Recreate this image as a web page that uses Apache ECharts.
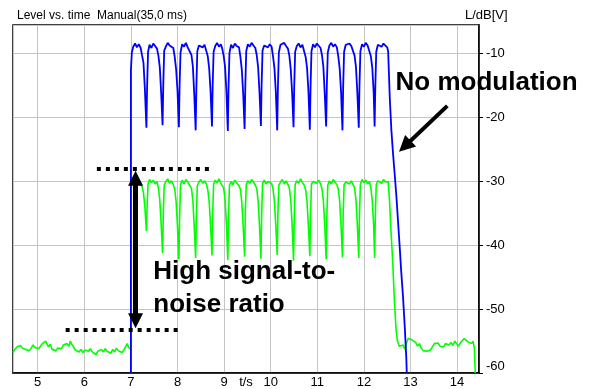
<!DOCTYPE html>
<html>
<head>
<meta charset="utf-8">
<script src="https://cdn.jsdelivr.net/npm/echarts@6/dist/echarts.min.js"></script>
<style>
  html, body { margin: 0; padding: 0; background: #fff; }
  #chart { width: 595px; height: 389px; }
</style>
</head>
<body>
<div id="chart"></div>
<script>
// level vs time, [t in s, L in dB]
const modulatedLevel = [
  [7.0, -60], [7.0, -12.6], [7.02, -9.8], [7.05, -8.9], [7.09, -8.4], [7.13, -9.0], [7.17, -8.5], [7.21, -9.1], [7.24, -10.3], [7.27, -11.4], [7.30, -15.5],
  [7.333, -21.6], [7.348, -15.2], [7.368, -9.7], [7.40, -8.6], [7.44, -9.1], [7.48, -8.4], [7.52, -8.8], [7.56, -9.2], [7.59, -10.3], [7.62, -12.1], [7.65, -16.2],
  [7.68, -21.2], [7.695, -14.8], [7.715, -9.5], [7.75, -8.9], [7.79, -8.3], [7.83, -8.7], [7.87, -8.5], [7.91, -9.1], [7.94, -10.5], [7.97, -12.4], [8.00, -15.8],
  [8.03, -21.5], [8.045, -15.0], [8.065, -9.8], [8.10, -8.5], [8.14, -8.9], [8.18, -8.3], [8.22, -9.0], [8.26, -8.7], [8.30, -10.2], [8.33, -12.0], [8.36, -16.4],
  [8.39, -22.0], [8.405, -15.3], [8.425, -9.6], [8.46, -8.7], [8.50, -8.4], [8.54, -9.0], [8.58, -8.6], [8.62, -8.9], [8.65, -10.4], [8.68, -12.3], [8.71, -16.0],
  [8.74, -21.4], [8.755, -14.9], [8.775, -9.7], [8.81, -8.8], [8.85, -8.3], [8.89, -8.9], [8.93, -8.5], [8.96, -9.2], [8.99, -10.3], [9.02, -12.0], [9.05, -15.9],
  [9.08, -22.1], [9.095, -15.4], [9.115, -9.9], [9.15, -8.6], [9.19, -9.1], [9.23, -8.4], [9.27, -8.8], [9.32, -9.0], [9.35, -10.5], [9.38, -12.5], [9.41, -16.3],
  [9.44, -21.8], [9.455, -15.1], [9.475, -9.6], [9.51, -8.5], [9.55, -8.9], [9.59, -8.3], [9.63, -8.7], [9.67, -9.1], [9.70, -10.2], [9.73, -12.1], [9.76, -16.1],
  [9.79, -21.3], [9.805, -14.8], [9.825, -9.5], [9.86, -8.7], [9.90, -8.4], [9.94, -9.0], [9.98, -8.5], [10.02, -8.9], [10.05, -10.4], [10.08, -12.2], [10.11, -16.0],
  [10.14, -22.0], [10.155, -15.2], [10.175, -9.8], [10.21, -8.6], [10.25, -8.9], [10.29, -8.3], [10.33, -8.8], [10.37, -9.2], [10.40, -10.3], [10.43, -12.4], [10.46, -16.2],
  [10.49, -21.5], [10.505, -15.0], [10.525, -9.7], [10.56, -8.8], [10.60, -8.4], [10.64, -9.0], [10.68, -8.6], [10.72, -8.9], [10.75, -10.5], [10.78, -12.2], [10.81, -15.9],
  [10.84, -21.9], [10.855, -15.3], [10.875, -9.6], [10.91, -8.5], [10.95, -9.0], [10.99, -8.4], [11.03, -8.7], [11.07, -9.1], [11.10, -10.2], [11.13, -12.0], [11.16, -16.3],
  [11.19, -21.4], [11.205, -14.9], [11.225, -9.8], [11.26, -8.7], [11.30, -8.3], [11.34, -8.9], [11.38, -8.5], [11.42, -9.0], [11.45, -10.4], [11.48, -12.3], [11.51, -16.0],
  [11.54, -22.0], [11.555, -15.2], [11.575, -9.7], [11.61, -8.6], [11.65, -8.9], [11.69, -8.4], [11.73, -8.8], [11.77, -9.1], [11.80, -10.3], [11.83, -12.1], [11.86, -16.2],
  [11.89, -21.6], [11.905, -15.0], [11.925, -9.6], [11.96, -8.5], [12.00, -8.9], [12.04, -8.3], [12.08, -8.7], [12.12, -9.0], [12.15, -10.4], [12.18, -12.2], [12.21, -16.1],
  [12.23, -21.4], [12.245, -15.1], [12.265, -9.7], [12.30, -8.6], [12.34, -8.3], [12.38, -8.9], [12.42, -8.4], [12.46, -8.7], [12.50, -9.0], [12.52, -9.6],
  [12.556, -17.0], [12.59, -22.0], [12.625, -25.6], [12.66, -28.8], [12.698, -32.4], [12.73, -36.0], [12.768, -40.2], [12.80, -44.0], [12.839, -48.0], [12.875, -52.5], [12.91, -57.6], [12.92, -60]
];

const plainLevel = [
  [4.47, -56.8], [4.50, -56.4], [4.53, -56.6], [4.56, -55.9], [4.60, -56.2], [4.63, -55.7], [4.67, -56.1], [4.70, -55.8], [4.74, -56.3], [4.78, -56.0],
  [4.82, -56.5], [4.86, -56.1], [4.90, -55.6], [4.94, -56.0], [4.98, -55.7], [5.02, -56.2], [5.06, -55.8], [5.10, -55.4], [5.14, -55.7], [5.17, -55.0],
  [5.20, -55.3], [5.23, -55.9], [5.27, -55.5], [5.31, -56.3], [5.35, -56.0], [5.39, -56.5], [5.43, -56.1], [5.47, -55.8], [5.51, -56.2], [5.55, -55.6],
  [5.59, -55.9], [5.63, -55.4], [5.67, -55.8], [5.70, -55.0], [5.73, -55.5], [5.77, -55.9], [5.81, -56.4], [5.85, -56.1], [5.89, -56.7], [5.93, -56.3],
  [5.97, -56.8], [6.01, -56.4], [6.05, -56.1], [6.09, -56.6], [6.13, -56.2], [6.17, -56.7], [6.21, -56.5], [6.25, -57.1], [6.29, -56.6], [6.33, -56.9],
  [6.37, -56.3], [6.41, -56.7], [6.45, -56.2], [6.49, -56.6], [6.53, -56.4], [6.57, -56.9], [6.61, -56.3], [6.65, -56.7], [6.69, -56.1], [6.73, -56.5],
  [6.77, -56.2], [6.81, -56.8], [6.85, -56.4], [6.89, -56.6], [6.92, -55.4], [6.95, -56.0], [6.98, -56.3], [7.0, -56.3],
  [7.0, -30.5], [7.02, -30.1], [7.05, -29.8], [7.09, -30.3], [7.13, -29.6], [7.17, -30.2], [7.21, -29.9], [7.24, -30.8], [7.27, -31.8], [7.30, -34.0],
  [7.333, -37.8], [7.348, -33.8], [7.368, -30.4], [7.40, -29.7], [7.44, -30.2], [7.48, -29.8], [7.52, -30.4], [7.56, -30.0], [7.59, -31.0], [7.62, -32.9], [7.65, -36.8],
  [7.68, -41.2], [7.695, -35.2], [7.715, -30.6], [7.75, -30.0], [7.79, -29.6], [7.83, -30.3], [7.87, -29.9], [7.91, -30.5], [7.94, -31.2], [7.97, -33.1], [8.00, -37.0],
  [8.03, -42.2], [8.045, -35.6], [8.065, -30.5], [8.10, -29.8], [8.14, -30.4], [8.18, -29.7], [8.22, -30.1], [8.26, -30.6], [8.30, -31.1], [8.33, -33.0], [8.36, -37.2],
  [8.39, -42.0], [8.405, -35.3], [8.425, -30.7], [8.46, -30.1], [8.50, -29.7], [8.54, -30.3], [8.58, -29.9], [8.62, -30.4], [8.65, -31.3], [8.68, -33.2], [8.71, -36.9],
  [8.74, -41.6], [8.755, -35.0], [8.775, -30.4], [8.81, -29.8], [8.85, -30.2], [8.89, -29.6], [8.93, -30.3], [8.96, -30.0], [8.99, -31.0], [9.02, -32.8], [9.05, -36.7],
  [9.08, -42.3], [9.095, -35.7], [9.115, -30.6], [9.15, -30.0], [9.19, -30.5], [9.23, -29.8], [9.27, -30.2], [9.32, -30.7], [9.35, -31.2], [9.38, -33.3], [9.41, -37.1],
  [9.44, -41.8], [9.455, -35.1], [9.475, -30.5], [9.51, -29.9], [9.55, -30.3], [9.59, -29.7], [9.63, -30.1], [9.67, -30.6], [9.70, -31.1], [9.73, -33.0], [9.76, -36.9],
  [9.79, -42.1], [9.805, -35.4], [9.825, -30.3], [9.86, -29.8], [9.90, -30.4], [9.94, -30.0], [9.98, -29.7], [10.02, -30.3], [10.05, -31.2], [10.08, -33.1], [10.11, -37.0],
  [10.14, -41.5], [10.155, -35.0], [10.175, -30.6], [10.21, -30.1], [10.25, -29.7], [10.29, -30.4], [10.33, -29.9], [10.37, -30.5], [10.40, -31.0], [10.43, -32.9], [10.46, -36.8],
  [10.49, -42.4], [10.505, -35.8], [10.525, -30.5], [10.56, -29.9], [10.60, -30.3], [10.64, -29.6], [10.68, -30.2], [10.72, -30.6], [10.75, -31.3], [10.78, -33.2], [10.81, -37.1],
  [10.84, -41.7], [10.855, -35.2], [10.875, -30.4], [10.91, -30.0], [10.95, -29.7], [10.99, -30.3], [11.03, -29.8], [11.07, -30.4], [11.10, -31.1], [11.13, -33.0], [11.16, -36.9],
  [11.19, -42.2], [11.205, -35.5], [11.225, -30.6], [11.26, -29.9], [11.30, -30.4], [11.34, -29.7], [11.38, -30.1], [11.42, -30.5], [11.45, -31.2], [11.48, -33.1], [11.51, -37.0],
  [11.54, -41.9], [11.555, -35.3], [11.575, -30.5], [11.61, -30.1], [11.65, -29.8], [11.69, -30.4], [11.73, -29.9], [11.77, -30.2], [11.80, -31.0], [11.83, -32.9], [11.86, -36.8],
  [11.89, -42.0], [11.905, -35.4], [11.925, -30.4], [11.96, -29.7], [12.00, -30.2], [12.04, -29.8], [12.08, -30.4], [12.12, -30.0], [12.15, -31.1], [12.18, -33.0], [12.21, -37.0],
  [12.23, -42.0], [12.245, -35.3], [12.265, -30.5], [12.30, -29.9], [12.34, -29.6], [12.38, -30.3], [12.42, -29.7], [12.46, -30.1], [12.50, -29.8], [12.52, -30.0],
  [12.55, -33.0], [12.58, -37.6], [12.62, -42.8], [12.65, -48.0], [12.69, -53.2], [12.72, -55.0], [12.76, -55.8], [12.80, -56.1], [12.84, -55.6], [12.88, -56.3],
  [12.92, -55.2], [12.95, -54.6], [12.99, -54.3], [13.03, -54.8], [13.07, -54.5], [13.11, -55.2], [13.15, -55.8], [13.19, -55.4], [13.23, -56.1], [13.27, -56.5],
  [13.31, -56.8], [13.35, -56.6], [13.39, -56.9], [13.43, -56.4], [13.47, -55.9], [13.51, -55.4], [13.55, -55.7], [13.59, -55.3], [13.63, -55.8], [13.67, -55.5],
  [13.71, -55.9], [13.75, -55.4], [13.79, -55.7], [13.83, -55.6], [13.87, -55.2], [13.91, -55.7], [13.95, -55.0], [13.99, -55.4], [14.03, -55.8], [14.07, -55.3],
  [14.11, -55.6], [14.15, -54.6], [14.19, -54.3], [14.23, -55.1], [14.27, -54.8], [14.31, -55.4], [14.34, -55.0], [14.37, -56.0], [14.385, -56.2], [14.39, -60]
];

// annotations in axis units [t, L]
const upperDots = [[6.27, -28.05], [8.76, -28.05]];
const lowerDots = [[5.60, -53.3], [8.09, -53.3]];
const snrArrow = [[7.10, -29.5], [7.10, -51.8]];
const noModArrow = [[13.79, -18.16], [12.878, -24.48]];
const noModLabel = [12.68, -14.6];
const snrLabel = [7.48, -46.7];

const FONT = "'Liberation Sans', Arial, sans-serif";

const chart = echarts.init(document.getElementById('chart'));
chart.setOption({
  animation: false,
  backgroundColor: '#fff',
  textStyle: { fontFamily: FONT },
  title: [
    {
      text: 'Level vs. time  Manual(35,0 ms)',
      left: 17,
      top: 10,
      padding: 0,
      textStyle: { fontFamily: FONT, fontSize: 12, fontWeight: 'normal', color: '#000' },
    },
    {
      text: 'L/dB[V]',
      left: 465,
      top: 9,
      padding: 0,
      textStyle: { fontFamily: FONT, fontSize: 13, fontWeight: 'normal', color: '#000' },
    },
  ],
  grid: {
    left: 13,
    right: 116,
    top: 25,
    bottom: 16,
    outerBoundsMode: 'none',
    show: true,
    borderColor: '#000',
    borderWidth: 1.5,
  },
  xAxis: {
    type: 'value',
    min: 4.47,
    max: 14.47,
    minInterval: 1,
    maxInterval: 1,
    name: 't/s',
    nameLocation: 'middle',
    nameGap: 3,
    nameMoveOverlap: false,
    nameTextStyle: { fontFamily: FONT, fontSize: 13, color: '#000', verticalAlign: 'top' },
    axisLine: { show: true, lineStyle: { color: '#000', width: 1.5 } },
    axisTick: { show: false },
    axisLabel: {
      margin: 3,
      fontFamily: FONT,
      fontSize: 13,
      color: '#000',
      showMinLabel: false,
      showMaxLabel: false,
    },
    splitLine: { show: true, lineStyle: { color: '#c4c4c4', width: 1 } },
  },
  yAxis: {
    type: 'value',
    position: 'right',
    min: -60,
    max: -5.5,
    interval: 10,
    axisLine: { show: true, lineStyle: { color: '#000', width: 1.5 } },
    axisTick: { show: true, inside: false, length: 4, lineStyle: { color: '#000' } },
    axisLabel: {
      margin: 7,
      fontFamily: FONT,
      fontSize: 13,
      color: '#000',
      showMaxLabel: false,
      verticalAlignMinLabel: 'bottom',
    },
    splitLine: { show: true, lineStyle: { color: '#c4c4c4', width: 1 } },
  },
  series: [
    {
      name: 'plain',
      type: 'line',
      data: plainLevel,
      symbol: 'none',
      z: 2,
      lineStyle: { color: '#00ff00', width: 1.6 },
    },
    {
      name: 'modulated',
      type: 'line',
      data: modulatedLevel,
      symbol: 'none',
      z: 3,
      lineStyle: { color: '#0000ff', width: 1.8 },
    },
    {
      name: 'notes',
      type: 'line',
      data: [],
      z: 5,
      markLine: {
        silent: true,
        animation: false,
        label: { show: false },
        emphasis: { disabled: true },
        data: [
          [
            { coord: upperDots[0], symbol: 'none', lineStyle: { color: '#000', width: 4, type: [4, 5] } },
            { coord: upperDots[1], symbol: 'none' },
          ],
          [
            { coord: lowerDots[0], symbol: 'none', lineStyle: { color: '#000', width: 4, type: [4, 5] } },
            { coord: lowerDots[1], symbol: 'none' },
          ],
          [
            { coord: snrArrow[0], symbol: 'triangle', symbolSize: 15, lineStyle: { color: '#000', width: 5, type: 'solid' } },
            { coord: snrArrow[1], symbol: 'triangle', symbolSize: 15 },
          ],
          [
            { coord: noModArrow[0], symbol: 'none', lineStyle: { color: '#000', width: 4, type: 'solid' } },
            { coord: noModArrow[1], symbol: 'triangle', symbolSize: 16 },
          ],
        ],
        itemStyle: { color: '#000' },
      },
      markPoint: {
        silent: true,
        symbol: 'circle',
        symbolSize: 0,
        data: [
          {
            coord: noModLabel,
            label: {
              show: true,
              position: 'right',
              distance: 0,
              formatter: 'No modulation',
              fontFamily: FONT,
              fontSize: 26,
              fontWeight: 'bold',
              color: '#000',
            },
          },
          {
            coord: snrLabel,
            label: {
              show: true,
              position: 'right',
              distance: 0,
              formatter: 'High signal-to-\nnoise ratio',
              fontFamily: FONT,
              fontSize: 26,
              fontWeight: 'bold',
              lineHeight: 33,
              color: '#000',
            },
          },
        ],
      },
    },
  ],
});
</script>
</body>
</html>
